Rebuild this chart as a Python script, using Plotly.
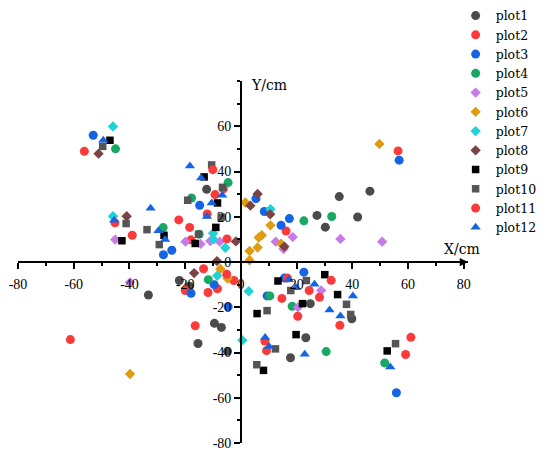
import plotly.graph_objects as go

# values (cm)
p1_x = [-12.3, 46.3, 35.3, 27.3, 30.3, 41.9, -33.2, -22.1, -18.5, -9.5, -7.0, -15.4, -4.8, 24.9, 39.8, 23.3, 17.8]
p1_y = [32.1, 31.3, 28.9, 20.6, 15.4, 19.9, -14.6, -8.2, -10.7, -27.1, -28.9, -36.0, -39.5, -18.4, -25.1, -33.5, -42.3]

p2_x = [-56.2, -45.2, -22.3, -17.9, -6.3, -12.1, 16.2, -20.0, -13.4, -8.4, -2.5, 14.7, 24.5, 20.4, 8.6, 61.0]
p2_y = [48.9, 17.3, 18.6, 9.8, 32.4, 21.2, 13.7, -12.6, -3.0, -11.8, -8.2, -16.1, -12.6, -24.0, -34.9, -33.3]

p3_x = [-53.0, 56.8, -27.8, -24.8, -14.8, 5.4, 8.4, 14.4, 17.4, -17.9, -9.6, -4.6, 22.6, 15.6, 9.4, 55.8]
p3_y = [56.0, 45.0, 3.2, 5.2, 25.1, 28.0, 22.3, 16.2, 19.2, -13.8, -10.0, -19.8, -4.5, -7.1, -15.0, -57.8]

p4_x = [-45.0, -27.9, -17.7, -15.0, -4.6, 22.6, 32.6, -11.7, 10.4, 18.4, 30.6, 51.6]
p4_y = [50.0, 15.2, 28.3, 12.3, 35.1, 18.2, 20.1, -7.8, -15.0, -19.6, -39.6, -44.6]

p5_x = [-45.1, -19.9, -14.5, -11.0, -7.6, 12.5, 15.3, 18.6, 35.7, 50.7, -39.8, 28.8, 20.5]
p5_y = [9.9, 9.0, 8.0, 9.3, 9.0, 9.0, 5.7, 11.0, 10.2, 9.0, -9.0, -12.6, -20.0]

p6_x = [49.7, 1.6, 10.6, 7.5, 6.4, 6.0, 3.1, 3.1, 14.4, -7.4, -4.8, -39.8]
p6_y = [52.2, 26.3, 16.2, 11.8, 10.8, 6.4, 4.9, 0.8, 8.1, -3.1, -7.3, -49.5]

p7_x = [-45.9, -45.9, -10.0, -9.8, -5.6, 10.6, -8.5, 2.8, 0.5]
p7_y = [59.9, 20.2, 12.7, 10.0, 6.3, 23.3, -6.1, -12.9, -34.6]

p8_x = [-51.1, -41.0, -1.8, -8.6, -16.8, 3.4, 6.0, 10.5, 15.6]
p8_y = [47.9, 20.2, 9.1, 0.4, -4.9, 24.9, 30.1, 21.1, 6.8]

p9_x = [-47.0, -42.7, -27.6, -16.4, -13.2, -8.4, -9.0, 13.3, 30.1, 5.8, 22.1, 34.7, 19.8, 8.1, 52.5]
p9_y = [53.8, 9.4, 11.8, 8.2, 37.6, 26.1, 15.3, -8.4, -5.6, -22.8, -18.4, -14.4, -32.1, -47.9, -39.3]

p10_x = [-49.6, -41.2, -33.7, -29.3, -19.1, -15.2, -10.5, -6.6, -7.1, 17.9, 23.5, 9.4, 37.9, 39.4, 12.4, 5.7, 55.5]
p10_y = [51.1, 17.0, 14.3, 7.7, 27.3, 12.3, 42.9, 33.0, 19.8, -12.6, -8.2, -21.5, -18.7, -23.2, -38.4, -45.4, -36.1]

p11_x = [56.4, -39.0, -18.4, -10.1, -9.3, -5.0, -61.2, -16.4, -11.8, -5.1, 16.7, 32.4, 28.2, 35.5, 9.2, 59.1]
p11_y = [49.1, 11.8, 15.3, 40.8, 29.8, 10.2, -34.3, -28.2, -13.5, -5.4, -7.1, -8.1, -15.6, -28.0, -39.2, -40.9]

p12_x = [-49.4, -45.5, -32.4, -29.6, -27.2, -18.3, -14.3, -10.5, -6.7, -12.2, 17.2, 19.8, 26.4, 40.2, 31.8, 35.7, 8.7, 10.1, 22.9, 53.6]
p12_y = [53.8, 18.4, 23.8, 13.8, 9.9, 42.4, 37.1, 26.1, 29.5, 20.1, -7.9, -11.4, -9.8, -15.0, -21.2, -23.9, -33.4, -37.3, -40.8, -46.4]

x_ticks = [-80, -60, -40, -20, 0, 20, 40, 60, 80]
y_ticks = [-80, -60, -40, -20, 0, 20, 40, 60]

series = [
    ("plot1", p1_x, p1_y, "circle", "#4b4b4b", 9),
    ("plot2", p2_x, p2_y, "circle", "#fb3b3b", 9),
    ("plot3", p3_x, p3_y, "circle", "#1464e4", 9),
    ("plot4", p4_x, p4_y, "circle", "#16a864", 9),
    ("plot5", p5_x, p5_y, "diamond", "#c77be8", 8),
    ("plot6", p6_x, p6_y, "diamond", "#de9c0e", 8),
    ("plot7", p7_x, p7_y, "diamond", "#20d2d6", 8),
    ("plot8", p8_x, p8_y, "diamond", "#7b4444", 8),
    ("plot9", p9_x, p9_y, "square", "#000000", 7.5),
    ("plot10", p10_x, p10_y, "square", "#555555", 7.5),
    ("plot11", p11_x, p11_y, "circle", "#fb3b3b", 9),
    ("plot12", p12_x, p12_y, "triangle-up", "#1464e4", 9),
]

fig = go.Figure()
for name, xs, ys, sym, col, sz in series:
    fig.add_trace(go.Scatter(x=xs, y=ys, mode="markers", name=name,
                             marker=dict(symbol=sym, color=col, size=sz, line=dict(width=0))))

tickfont = dict(family="Liberation Serif", size=14, color="black")

# the page body adds an 8px offset, so the figure is 8px smaller than the window
fig.update_layout(
    width=542, height=445,
    margin=dict(l=10.3, r=81.6, t=72.7, b=10.3, autoexpand=False),
    plot_bgcolor="white", paper_bgcolor="white",
    showlegend=True,
    legend=dict(x=0.9725, y=1.221, xanchor="left", yanchor="top", maxheight=400,
                font=dict(family="DejaVu Serif", size=12.5, color="black"),
                bgcolor="rgba(0,0,0,0)"),
    xaxis=dict(range=[-80, 81.5], anchor="free", position=0.5,
               showgrid=False, zeroline=False, automargin=False,
               showline=True, linecolor="black", linewidth=1.5,
               ticks="outside", ticklen=6, tickwidth=1.5, tickcolor="black",
               tickmode="array", tickvals=x_ticks, ticktext=[str(v) for v in x_ticks],
               tickfont=tickfont, ticklabelstandoff=3,
               minor=dict(tickmode="linear", tick0=0, dtick=10, ticks="outside",
                          ticklen=3.5, tickwidth=1.5, tickcolor="black")),
    yaxis=dict(range=[-80, 80], anchor="free", position=80 / 161.5,
               showgrid=False, zeroline=False, automargin=False,
               showline=True, linecolor="black", linewidth=1.5,
               ticks="outside", ticklen=6, tickwidth=1.5, tickcolor="black",
               tickmode="array", tickvals=y_ticks, ticktext=[str(v) for v in y_ticks],
               tickfont=tickfont,
               minor=dict(tickmode="linear", tick0=0, dtick=10, ticks="outside",
                          ticklen=3.5, tickwidth=1.5, tickcolor="black")),
    annotations=[
        # axis arrows
        dict(x=81.5, y=0, xref="x", yref="y", ax=-14, ay=0, text="", showarrow=True,
             arrowhead=2, arrowsize=1.1, arrowwidth=1.5, arrowcolor="black", standoff=0),
        dict(x=0, y=80.5, xref="x", yref="y", ax=0, ay=14, text="", showarrow=True,
             arrowhead=2, arrowsize=1.1, arrowwidth=1.5, arrowcolor="black", standoff=0),
        dict(x=79.5, y=5.9, xref="x", yref="y", text="X/cm", showarrow=False,
             xanchor="center", yanchor="middle",
             font=dict(family="DejaVu Serif", size=14, color="black")),
        dict(x=2.8, y=78.1, xref="x", yref="y", text="Y/cm", showarrow=False,
             xanchor="left", yanchor="middle",
             font=dict(family="DejaVu Serif", size=14, color="black")),
    ],
)

fig.write_html("out.html")
